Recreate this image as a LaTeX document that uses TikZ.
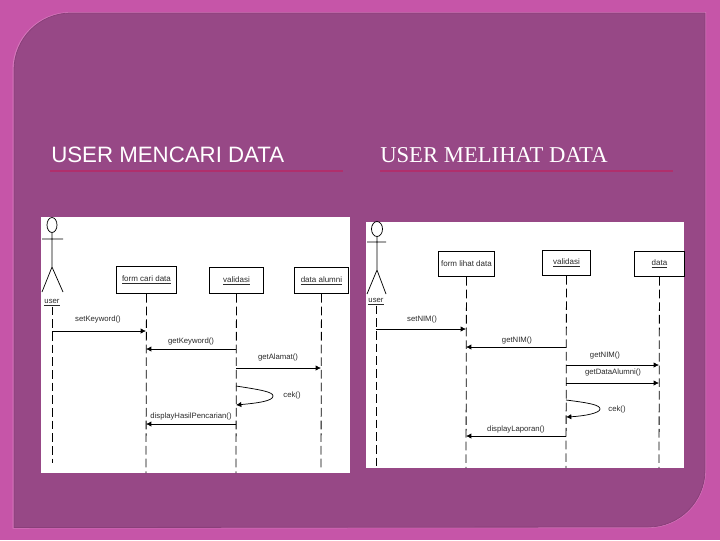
\documentclass[tikz,border=0pt]{standalone}
\usepackage{fontspec}
\setmainfont{Liberation Sans}
\newfontfamily\serifttl{Liberation Serif}
\usetikzlibrary{arrows.meta}
\definecolor{bgpink}{HTML}{C655A8}
\definecolor{panelpurple}{HTML}{974886}
\definecolor{panelrim}{HTML}{D678BC}
\definecolor{paneledge}{HTML}{8A3F7A}
\definecolor{rulered}{HTML}{B02F6C}
\definecolor{inktone}{HTML}{2A2A2A}
\tikzset{
  sheet/.style={fill=white,draw=none},
  objbox/.style={draw=black,line width=0.7pt,fill=white,font=\fontsize{6}{7}\selectfont,text=inktone,inner sep=0pt,anchor=north west},
  lifeline/.style={draw=black,line width=0.6pt,dash pattern=on 6.5pt off 3pt},
  msg/.style={draw=black,line width=0.55pt,-{Latex[length=4pt,width=4pt]}},
  limb/.style={draw=black,line width=0.55pt},
  msglabel/.style={font=\fontsize{5.8}{7}\selectfont,text=inktone,inner sep=0pt},
  titlerule/.style={draw=rulered,line width=0.9pt},
  ttl/.style={text=white,inner sep=0pt,anchor=base west}
}
\begin{document}
\begin{tikzpicture}[x=0.75pt,y=-0.75pt]
\useasboundingbox (0,0) rectangle (720,540);
\fill[bgpink] (0,0) rectangle (720,540);
% panel
\path[fill=panelrim] (12.5,70) arc[start angle=180,end angle=270,radius=58] -- (706,12) -- (706,470) arc[start angle=0,end angle=90,radius=58] -- (12.5,528.5) -- cycle;
\path[fill=panelpurple,draw=paneledge,line width=0.6pt] (14,70) arc[start angle=180,end angle=270,radius=57] -- (705,13) -- (705,470) arc[start angle=0,end angle=90,radius=57] -- (14,527.5) -- cycle;
% titles
\node[ttl,font=\fontsize{16.7}{19}\selectfont] (t1) at (51,162) {USER MENCARI DATA};
\node[ttl,font=\serifttl\fontsize{17}{19}\selectfont] (t2) at (380,162) {USER MELIHAT DATA};
\coordinate (r1a) at (50,171); \coordinate (r1b) at (343,171);
\coordinate (r2a) at (380,171); \coordinate (r2b) at (673,171);
\draw[titlerule] (r1a) -- (r1b);
\draw[titlerule] (r2a) -- (r2b);
% left sheet
\fill[sheet] (41,217) rectangle (350,473);
\draw[limb] (52,225) ellipse[x radius=5,y radius=7.5];
\coordinate (ah) at (52,232.5); \coordinate (ab) at (52,267);
\coordinate (aal) at (42,239); \coordinate (aar) at (63,239);
\coordinate (all) at (42,292); \coordinate (alr) at (63,292);
\draw[limb] (ah) -- (ab) (aal) -- (aar) (all) -- (ab) -- (alr);
\node[msglabel] (ua) at (52,303) {\underline{user}};
\node[objbox,minimum width=60pt*0.75,minimum height=27pt*0.75] (f1) at (116,266) {\underline{form cari data}};
\node[objbox,minimum width=54pt*0.75,minimum height=26pt*0.75] (v1) at (209,267) {\underline{validasi}};
\node[objbox,minimum width=54pt*0.75,minimum height=26pt*0.75] (d1) at (294,267) {\underline{data alumni}};
\coordinate (ue) at (52,463); \coordinate (fe) at (146,473); \coordinate (ve) at (236,473); \coordinate (de) at (321,471);
\draw[lifeline] (ua.south) -- (ue);
\draw[lifeline] (f1.south) -- (fe);
\draw[lifeline] (v1.south) -- (ve);
\draw[lifeline] (d1.south) -- (de);
\coordinate (a1) at (52,331); \coordinate (b1) at (146,331);
\coordinate (a2) at (236,349); \coordinate (b2) at (146,349);
\coordinate (a3) at (236,368); \coordinate (b3) at (321,368);
\coordinate (a4) at (236,386); \coordinate (b4) at (236,405);
\coordinate (a5) at (236,424); \coordinate (b5) at (146,424);
\draw[msg] (a1) -- (b1);
\draw[msg] (a2) -- (b2);
\draw[msg] (a3) -- (b3);
\draw[msg] (a4) .. controls (262,390) and (273,392) .. (273,396) .. controls (273,401) and (258,403) .. (b4);
\draw[msg] (a5) -- (b5);
\node[msglabel] (m1) at (98,319) {setKeyword()};
\node[msglabel] (m2) at (191,341) {getKeyword()};
\node[msglabel] (m3) at (278,357) {getAlamat()};
\node[msglabel] (m4) at (292,395) {cek()};
\node[msglabel] (m5) at (191,416) {displayHasilPencarian()};
% right sheet
\fill[sheet] (366,222) rectangle (684,468);
\draw[limb] (377,229) ellipse[x radius=5.5,y radius=7.5];
\coordinate (xh) at (377,236.5); \coordinate (xb) at (377,270);
\coordinate (xal) at (367,242); \coordinate (xar) at (386,242);
\coordinate (xll) at (367,294); \coordinate (xlr) at (386,294);
\draw[limb] (xh) -- (xb) (xal) -- (xar) (xll) -- (xb) -- (xlr);
\node[msglabel] (ub) at (376,302) {\underline{user}};
\node[objbox,minimum width=56pt*0.75,minimum height=25pt*0.75] (f2) at (438,251) {form lihat data};
\node[objbox,minimum width=48pt*0.75,minimum height=25pt*0.75] (v2) at (542,250) {\underline{validasi}};
\node[objbox,minimum width=50pt*0.75,minimum height=25pt*0.75] (d2) at (634,251) {\underline{data}};
\coordinate (ue2) at (376,468); \coordinate (fe2) at (466,468); \coordinate (ve2) at (566,468); \coordinate (de2) at (659,468);
\draw[lifeline] (ub.south) -- (ue2);
\draw[lifeline] (f2.south) -- (fe2);
\draw[lifeline] (v2.south) -- (ve2);
\draw[lifeline] (d2.south) -- (de2);
\coordinate (c1) at (376,329); \coordinate (e1) at (466,329);
\coordinate (c2) at (566,347); \coordinate (e2) at (466,347);
\coordinate (c3) at (566,365); \coordinate (e3) at (659,365);
\coordinate (c4) at (566,383); \coordinate (e4) at (659,383);
\coordinate (c5) at (566,400); \coordinate (e5) at (566,417);
\coordinate (c6) at (566,436); \coordinate (e6) at (466,436);
\draw[msg] (c1) -- (e1);
\draw[msg] (c2) -- (e2);
\draw[msg] (c3) -- (e3);
\draw[msg] (c4) -- (e4);
\draw[msg] (c5) .. controls (590,403) and (600,405) .. (600,409) .. controls (600,413) and (585,416) .. (e5);
\draw[msg] (c6) -- (e6);
\node[msglabel] (n1) at (422,319) {setNIM()};
\node[msglabel] (n2) at (517,340) {getNIM()};
\node[msglabel] (n3) at (605,355) {getNIM()};
\node[msglabel] (n4) at (613,372) {getDataAlumni()};
\node[msglabel] (n5) at (617,409) {cek()};
\node[msglabel] (n6) at (516,429) {displayLaporan()};
\end{tikzpicture}
\end{document}
